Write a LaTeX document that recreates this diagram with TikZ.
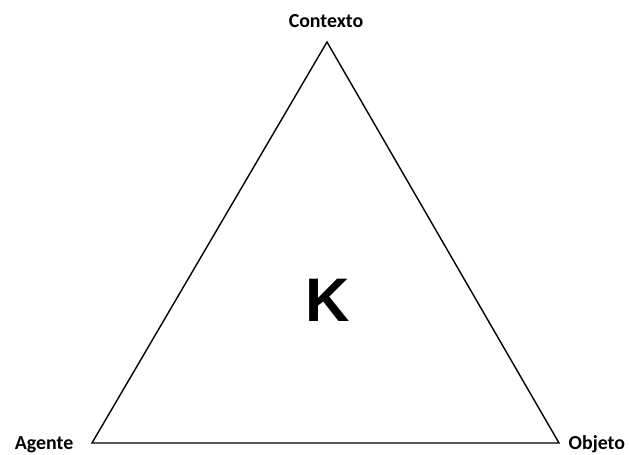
\documentclass[tikz,border=0pt]{standalone}
\usepackage{fontspec}
\setmainfont{Carlito}
\newfontfamily\kfont{Liberation Sans}
\usepackage{tikz}
\usetikzlibrary{positioning}

\begin{document}
\begin{tikzpicture}[line width=0.8, label/.style={font=\bfseries\fontsize{11.3}{13}\selectfont, inner sep=0}]
\useasboundingbox (0,0) rectangle (12.6,9.1);
% -- corners --
\coordinate (contexto) at (6.54,8.26);
\coordinate (agente) at (1.84,0.24);
\coordinate (objeto) at (11.18,0.24);
\draw (agente) -- (contexto) -- (objeto) -- cycle;
% -- labels --
\node[label, anchor=base] (lcontexto) at (6.52,8.54) {Contexto};
\node[label, anchor=base east] (lagente) at (1.48,0.11) {Agente};
\node[label, anchor=base west] (lobjeto) at (11.36,0.11) {Objeto};
\node[inner sep=0] (k) at (6.56,3.1) {\kfont\bfseries\fontsize{35}{40}\selectfont K};
\end{tikzpicture}
\end{document}
